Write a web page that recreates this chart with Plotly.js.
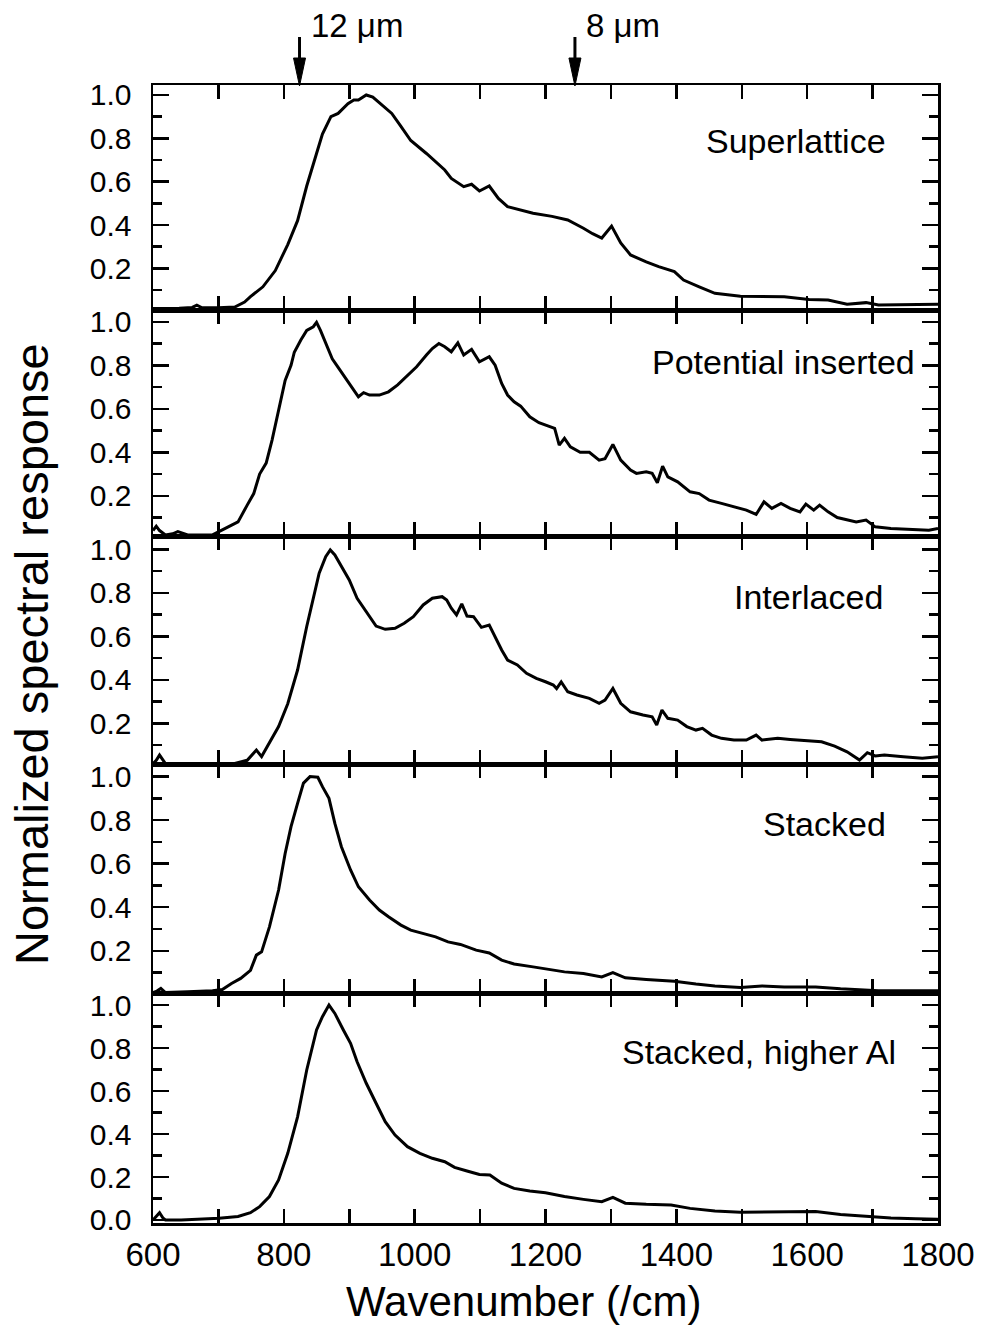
<!DOCTYPE html>
<html>
<head>
<meta charset="utf-8">
<script src="https://cdn.plot.ly/plotly-3.0.1.min.js"></script>
<style>html,body{margin:0;padding:0;background:#fff;}#chart{width:983px;height:1331px;}</style>
</head>
<body>
<div id="chart"></div>
<script>
// ---- Data ----
const panelNames = ["Superlattice", "Potential inserted", "Interlaced", "Stacked", "Stacked, higher Al"];

const wnSuperlattice = [600,640,660,667,675,700,725,740,749,768,787,806,821,835,850,859,872,883,898,907,914,926,936,950,965,979,994,1018,1046,1056,1075,1087,1099,1114,1128,1142,1162,1181,1210,1234,1258,1272,1286,1301,1315,1330,1354,1373,1397,1411,1435,1459,1498,1536,1565,1603,1632,1661,1690,1709,1757,1800];
const srSuperlattice = [0.015,0.016,0.02,0.03,0.018,0.018,0.022,0.045,0.07,0.115,0.19,0.31,0.42,0.58,0.73,0.82,0.90,0.915,0.96,0.977,0.977,1.0,0.99,0.955,0.915,0.855,0.79,0.73,0.654,0.615,0.577,0.588,0.557,0.58,0.523,0.485,0.47,0.454,0.44,0.423,0.385,0.36,0.34,0.395,0.317,0.262,0.23,0.208,0.185,0.146,0.115,0.085,0.072,0.069,0.069,0.057,0.054,0.035,0.042,0.031,0.034,0.035];

const wnPotential = [600,605,610,619,630,638,653,675,691,715,730,744,754,763,773,782,792,802,811,816,826,835,845,850,856,864,874,883,893,902,914,922,931,946,960,974,989,1003,1018,1027,1037,1046,1056,1066,1075,1087,1099,1114,1123,1133,1142,1152,1162,1176,1190,1205,1214,1221,1229,1238,1253,1267,1282,1291,1303,1315,1330,1339,1354,1363,1371,1379,1387,1402,1421,1435,1450,1469,1488,1507,1522,1534,1546,1560,1574,1589,1598,1610,1619,1632,1646,1661,1675,1690,1704,1728,1757,1786,1800];
const srPotential = [0.04,0.06,0.04,0.02,0.025,0.035,0.02,0.022,0.02,0.057,0.08,0.157,0.21,0.30,0.35,0.456,0.594,0.73,0.80,0.86,0.916,0.96,0.977,0.997,0.96,0.90,0.83,0.79,0.747,0.71,0.655,0.674,0.663,0.663,0.678,0.71,0.755,0.793,0.847,0.877,0.90,0.885,0.862,0.903,0.847,0.873,0.816,0.839,0.80,0.716,0.663,0.632,0.612,0.563,0.536,0.52,0.51,0.433,0.464,0.425,0.40,0.40,0.364,0.37,0.436,0.364,0.318,0.303,0.31,0.303,0.26,0.336,0.287,0.264,0.218,0.21,0.18,0.165,0.15,0.134,0.114,0.172,0.142,0.165,0.142,0.126,0.162,0.134,0.157,0.126,0.10,0.088,0.08,0.088,0.057,0.05,0.045,0.042,0.05];

const wnInterlaced = [600,605,610,615,619,653,700,725,744,758,766,778,792,806,821,835,845,854,864,871,878,888,900,912,926,941,955,970,984,998,1013,1027,1042,1049,1056,1064,1072,1080,1090,1102,1114,1123,1133,1142,1157,1171,1186,1200,1212,1217,1224,1234,1248,1267,1282,1291,1303,1315,1330,1349,1363,1370,1378,1387,1402,1416,1430,1440,1454,1469,1488,1507,1522,1531,1555,1574,1603,1622,1642,1661,1680,1692,1704,1718,1747,1776,1800];
const srInterlaced = [0.015,0.03,0.054,0.03,0.015,0.015,0.015,0.015,0.03,0.077,0.047,0.108,0.185,0.29,0.445,0.645,0.782,0.89,0.966,0.997,0.974,0.92,0.859,0.775,0.713,0.647,0.632,0.637,0.66,0.69,0.744,0.775,0.782,0.767,0.729,0.698,0.749,0.693,0.69,0.641,0.652,0.598,0.537,0.491,0.468,0.43,0.407,0.391,0.376,0.36,0.39,0.345,0.33,0.315,0.292,0.307,0.36,0.292,0.253,0.238,0.23,0.192,0.261,0.223,0.215,0.185,0.169,0.177,0.146,0.131,0.123,0.123,0.146,0.123,0.131,0.126,0.12,0.115,0.095,0.069,0.031,0.065,0.05,0.054,0.046,0.039,0.046];

const wnStacked = [600,606,612,619,653,691,706,720,734,749,758,766,778,792,802,811,821,830,840,852,859,869,878,888,902,914,931,946,960,979,994,1013,1032,1051,1070,1094,1114,1133,1152,1181,1210,1229,1258,1286,1303,1322,1354,1397,1430,1459,1498,1531,1565,1613,1651,1680,1709,1757,1800];
const srStacked = [0.008,0.015,0.027,0.008,0.012,0.016,0.022,0.05,0.073,0.11,0.18,0.195,0.31,0.479,0.647,0.77,0.877,0.97,1.0,0.997,0.954,0.90,0.785,0.678,0.571,0.494,0.433,0.387,0.356,0.318,0.295,0.28,0.264,0.241,0.229,0.203,0.19,0.157,0.139,0.126,0.114,0.103,0.096,0.08,0.1,0.076,0.068,0.06,0.047,0.038,0.031,0.038,0.034,0.034,0.025,0.019,0.016,0.016,0.016];

const wnHigherAl = [600,605,610,615,619,643,672,701,730,749,763,778,792,806,821,835,850,859,869,878,891,902,912,926,941,955,970,989,1008,1027,1046,1061,1080,1099,1115,1133,1152,1176,1200,1229,1258,1286,1303,1322,1354,1392,1421,1459,1498,1546,1613,1651,1690,1728,1766,1800];
const srHigherAl = [0.0,0.015,0.034,0.01,0.0,0.0,0.003,0.008,0.016,0.034,0.062,0.109,0.186,0.31,0.48,0.698,0.884,0.946,1.0,0.961,0.884,0.822,0.736,0.636,0.543,0.457,0.395,0.341,0.31,0.287,0.271,0.245,0.228,0.212,0.209,0.171,0.147,0.135,0.127,0.109,0.096,0.085,0.105,0.078,0.073,0.07,0.054,0.042,0.036,0.036,0.039,0.026,0.016,0.009,0.006,0.003];

// wavelength markers on top
const markerLabels = ["12 \u03bcm", "8 \u03bcm"];
const markerWavenumbers = [824, 1245];

// tick labels
const xTickVals = [600, 800, 1000, 1200, 1400, 1600, 1800];
const yTickValsUpper = [0.2, 0.4, 0.6, 0.8, 1.0];
const yTickValsBottom = [0.0, 0.2, 0.4, 0.6, 0.8, 1.0];

// ---- Layout helpers (pixels -> paper) ----
const W = 983, H = 1331;
const L = 153, R = 938, T = 85, B = 1223;
const px2x = p => (p - L) / (R - L);
const px2y = p => (B - p) / (B - T);
const FONT = "Liberation Sans, Arial, Helvetica, sans-serif";

const series = [
  [wnSuperlattice, srSuperlattice],
  [wnPotential, srPotential],
  [wnInterlaced, srInterlaced],
  [wnStacked, srStacked],
  [wnHigherAl, srHigherAl]
];
const boundsPx = [85, 310, 536, 764, 993, 1223];
const yRanges = [[0.008, 1.046], [0.015, 1.054], [0.013, 1.061], [0.006, 1.058], [-0.014, 1.056]];

const traces = series.map((s, i) => ({
  x: s[0], y: s[1], type: 'scatter', mode: 'lines',
  xaxis: 'x', yaxis: i === 0 ? 'y' : 'y' + (i + 1),
  line: {color: '#000', width: 3},
  showlegend: false, hoverinfo: 'skip'
}));

const layout = {
  width: W, height: H,
  margin: {l: L, r: W - R, t: T, b: H - B},
  paper_bgcolor: '#fff', plot_bgcolor: '#fff',
  font: {family: FONT, color: '#000'},
  showlegend: false,
  xaxis: {
    range: [600, 1800], anchor: 'y5',
    showline: true, linecolor: '#000', linewidth: 2.5, mirror: 'allticks',
    ticks: 'inside', ticklen: 14, tickwidth: 2.5, tickcolor: '#000',
    tickvals: xTickVals, ticktext: xTickVals.map(String),
    minor: {dtick: 100, tick0: 600, ticks: 'inside', ticklen: 14, tickwidth: 2.5, tickcolor: '#000', showgrid: false},
    showgrid: false, zeroline: false,
    tickfont: {family: FONT, size: 33, color: '#000'},
    ticklabelstandoff: 1
  },
  shapes: [],
  annotations: []
};

for (let i = 0; i < 5; i++) {
  const key = i === 0 ? 'yaxis' : 'yaxis' + (i + 1);
  const tv = i === 4 ? yTickValsBottom : yTickValsUpper;
  layout[key] = {
    domain: [px2y(boundsPx[i + 1]), px2y(boundsPx[i])],
    range: yRanges[i], anchor: 'x',
    showline: true, linecolor: '#000', linewidth: 2.5, mirror: 'ticks',
    ticks: 'inside', ticklen: 16, tickwidth: 2.5, tickcolor: '#000',
    tickvals: tv, ticktext: tv.map(v => v.toFixed(1)),
    minor: {dtick: 0.1, tick0: 0.1, ticks: 'inside', ticklen: 9, tickwidth: 2.5, tickcolor: '#000', showgrid: false},
    showgrid: false, zeroline: false,
    tickfont: {family: FONT, size: 30, color: '#000'},
    ticklabelstandoff: 13
  };
}

// panel labels
const labelRightPx = [888, 917, 885, 888, 898];
const labelCenterPx = [141, 362, 597, 824, 1052];
panelNames.forEach((name, i) => {
  layout.annotations.push({
    text: name, xref: 'paper', yref: 'paper',
    x: px2x(labelRightPx[i]), y: px2y(labelCenterPx[i]),
    xanchor: 'right', yanchor: 'middle', showarrow: false,
    font: {family: FONT, size: 34, color: '#000'}
  });
});

// axis titles
layout.annotations.push({
  text: 'Wavenumber (/cm)', xref: 'paper', yref: 'paper',
  x: px2x(524), y: px2y(1301), xanchor: 'center', yanchor: 'middle',
  showarrow: false, font: {family: FONT, size: 42, color: '#000'}
});
layout.annotations.push({
  text: 'Normalized spectral response', xref: 'paper', yref: 'paper',
  x: px2x(31), y: px2y(654), xanchor: 'center', yanchor: 'middle', textangle: -90,
  showarrow: false, font: {family: FONT, size: 47, color: '#000'}
});

// wavelength marker arrows and labels
const dataPerPx = 1200 / (R - L);
markerWavenumbers.forEach((wn, i) => {
  const hw = 6 * dataPerPx;
  layout.shapes.push({
    type: 'line', xref: 'x', yref: 'paper',
    x0: wn, x1: wn, y0: px2y(37), y1: px2y(62),
    line: {color: '#000', width: 3}
  });
  layout.shapes.push({
    type: 'path', xref: 'x', yref: 'paper',
    path: `M ${wn - hw},${px2y(58)} L ${wn + hw},${px2y(58)} L ${wn},${px2y(86)} Z`,
    fillcolor: '#000', line: {color: '#000', width: 1}
  });
  layout.annotations.push({
    text: markerLabels[i], xref: 'x', yref: 'paper',
    x: wn + 9 * dataPerPx, y: px2y(26), xanchor: 'left', yanchor: 'middle',
    showarrow: false, font: {family: FONT, size: 33, color: '#000'}
  });
});

Plotly.newPlot('chart', traces, layout, {staticPlot: true, displayModeBar: false});
</script>
</body>
</html>
